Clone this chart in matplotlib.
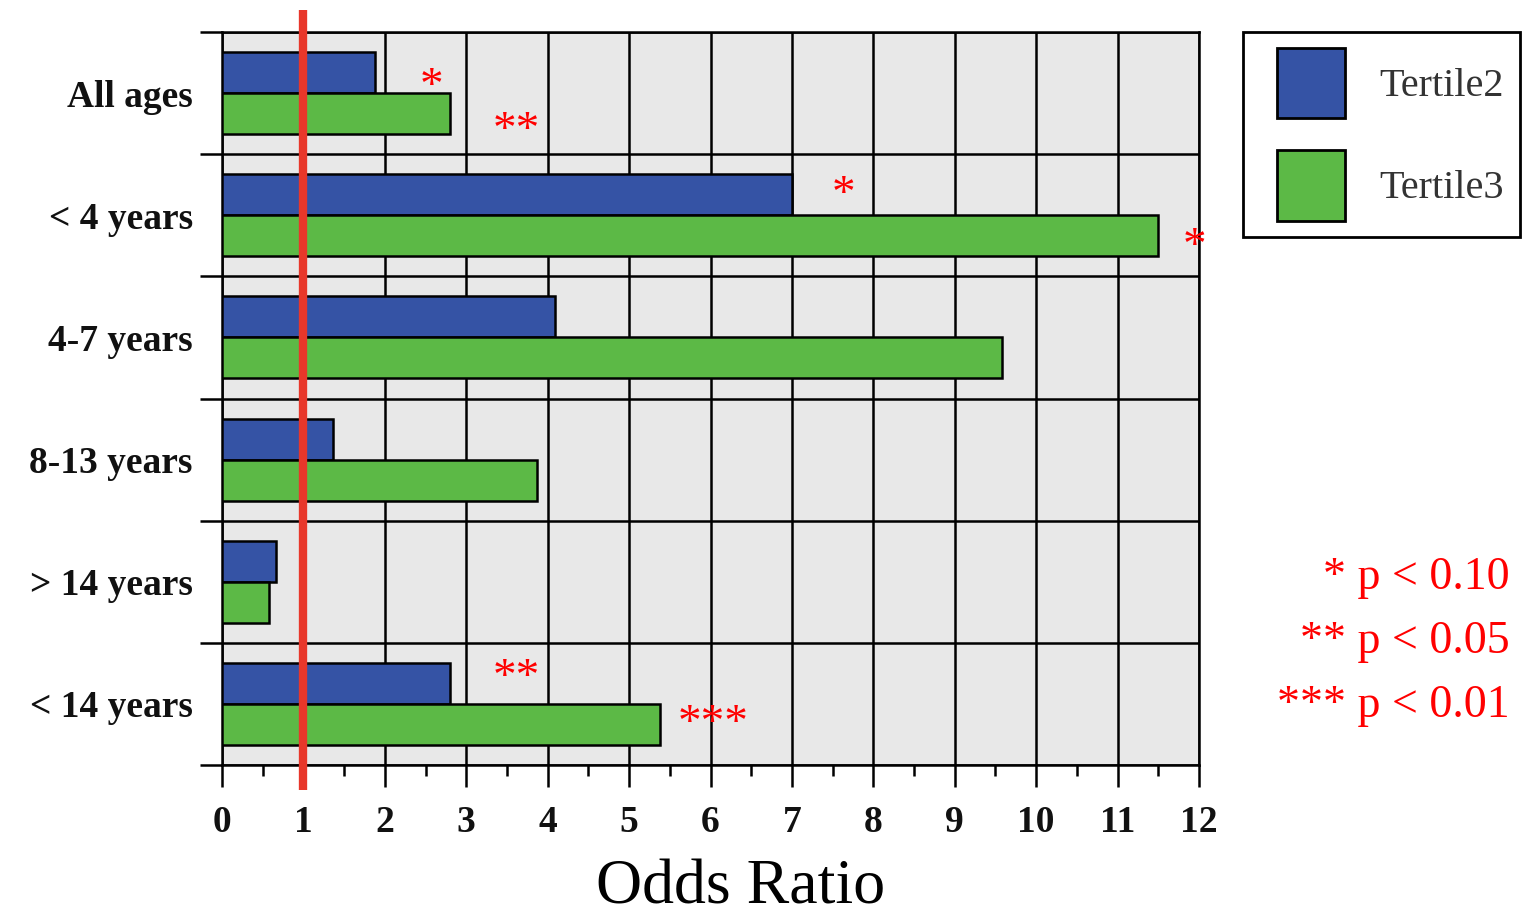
import numpy as np
import matplotlib
matplotlib.use("Agg")
from matplotlib import pyplot as plt
from matplotlib.patches import Patch, Rectangle
from matplotlib.legend_handler import HandlerPatch

# odds ratio by age group, two tertiles
groups = ["All ages", "< 4 years", "4-7 years", "8-13 years", "> 14 years", "< 14 years"]
tertile2 = [1.88, 7.0, 4.09, 1.36, 0.66, 2.8]
tertile3 = [2.8, 11.5, 9.58, 3.87, 0.58, 5.38]

# significance marks: label, x and y of the text in data units
star_labels = ["*", "**", "*", "*", "**", "***"]
star_x = [2.57, 3.62, 7.63, 11.95, 3.62, 6.03]
star_y = [-0.04, 0.32, 0.84, 1.27, 4.79, 5.17]
notes = ["* p < 0.10", "** p < 0.05", "*** p < 0.01"]

blue = "#3553a5"
green = "#5cb946"
serif = "Liberation Serif"

fig = plt.figure(figsize=(15.31, 9.18), dpi=100)
ax = fig.add_axes([222/1531, 1 - 765/918, (1199 - 222)/1531, (765 - 32)/918])
ax.set_facecolor("#e8e8e8")

y = np.arange(len(groups))
h = 0.336
ax.barh(y - h/2, tertile2, height=h, color=blue, edgecolor="black", linewidth=1.8, zorder=3)
ax.barh(y + h/2, tertile3, height=h, color=green, edgecolor="black", linewidth=1.8, zorder=3)

ax.axvline(1, ymin=-0.034, ymax=1.03, color="#e8372a", lw=6, clip_on=False,
           solid_capstyle="butt", zorder=5)

ax.set_xlim(0, 12)
ax.set_ylim(len(groups) - 0.5, -0.5)
ax.set_xticks(range(13))
ax.set_xticks(np.arange(0.5, 12, 1), minor=True)
ax.set_yticks(y)
ax.set_yticklabels(groups)
ax.set_yticks(np.arange(-0.5, len(groups), 1), minor=True)

ax.tick_params(axis="y", which="major", length=0, pad=21)
ax.tick_params(axis="y", which="minor", length=16, width=1.8, direction="out")
ax.tick_params(axis="x", which="major", length=16, width=1.8, pad=13)
ax.tick_params(axis="x", which="minor", length=8, width=1.8)
for lab in ax.get_xticklabels() + ax.get_yticklabels():
    lab.set_fontfamily(serif)
    lab.set_fontweight("bold")
    lab.set_fontsize(27)
    lab.set_color("#111111")

ax.grid(True, axis="x", which="major", color="black", lw=1.8, zorder=1)
ax.grid(True, axis="y", which="minor", color="black", lw=1.8, zorder=1)
ax.set_axisbelow(True)
for s in ax.spines.values():
    s.set_linewidth(1.8)

for lab, xs, ys in zip(star_labels, star_x, star_y):
    ax.text(xs, ys, lab, color="red", fontsize=34, family=serif,
            ha="center", va="center", zorder=6)

fig.text(741/1531, 1 - 888/918, "Odds Ratio", fontsize=46, family=serif,
         ha="center", va="center")

for k, note in enumerate(notes):
    fig.text(1510/1531, 1 - (578 + 64*k)/918, note, color="red", fontsize=33,
             family=serif, ha="right", va="center")


def square(legend, orig_handle, xdescent, ydescent, width, height, fontsize):
    # patch sits at the right end of the handle box, leaving a left margin
    return Rectangle((-xdescent + width - 49, -ydescent), 49, height)


handles = [Patch(facecolor=blue, edgecolor="black", lw=2),
           Patch(facecolor=green, edgecolor="black", lw=2)]
leg = fig.legend(handles, ["Tertile2", "Tertile3"], loc="upper left",
                 bbox_to_anchor=(1243/1531, 1 - 32/918), prop={"family": serif, "size": 29},
                 frameon=True, fancybox=False, edgecolor="black", framealpha=1,
                 handlelength=2.13, handleheight=2.3, labelspacing=0.8,
                 handletextpad=0.86, borderpad=0.4, borderaxespad=0,
                 handler_map={Patch: HandlerPatch(patch_func=square)})
leg.get_frame().set_linewidth(2)
for t in leg.get_texts():
    t.set_color("#333333")

fig.savefig("out.png", dpi=100)
